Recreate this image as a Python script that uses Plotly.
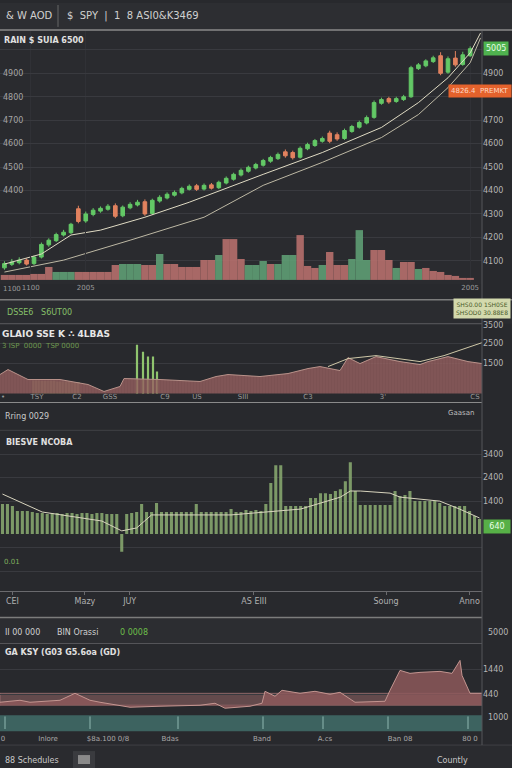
import plotly.graph_objects as go

W, H = 512, 768
XR = 482  # right edge of plotting area in px

def PX(v):
    return v / W

def PY(v):
    return 1 - v / H

# ---------------- Panel 1 : candles ----------------
candle_idx = list(range(64))
opens = [4070, 4085, 4092, 4103, 4088, 4116, 4168, 4186, 4210, 4220,
         4322, 4270, 4298, 4312, 4320, 4335, 4292, 4326, 4338, 4352,
         4302, 4355, 4368, 4380, 4390, 4405, 4420, 4406, 4424, 4412,
         4432, 4448, 4466, 4482, 4496, 4508, 4525, 4536, 4565, 4562,
         4542, 4578, 4592, 4610, 4645, 4638, 4622, 4652, 4670, 4688,
         4712, 4772, 4792, 4780, 4788, 4800, 4920, 4932, 4950, 4975,
         4905, 4965, 4938, 4975]
closes = [4088, 4095, 4103, 4086, 4116, 4170, 4188, 4212, 4222, 4256,
          4268, 4300, 4316, 4324, 4333, 4290, 4329, 4341, 4350, 4300,
          4358, 4371, 4384, 4392, 4409, 4418, 4405, 4422, 4410, 4435,
          4452, 4469, 4486, 4499, 4511, 4528, 4541, 4554, 4548, 4540,
          4580, 4596, 4613, 4622, 4610, 4620, 4656, 4673, 4690, 4711,
          4775, 4788, 4778, 4792, 4800, 4924, 4936, 4953, 4966, 4900,
          4962, 4936, 4979, 5005]
highs = [4098, 4108, 4115, 4110, 4122, 4178, 4196, 4220, 4232, 4262,
         4335, 4310, 4325, 4332, 4342, 4345, 4336, 4350, 4360, 4362,
         4365, 4380, 4392, 4400, 4416, 4426, 4428, 4430, 4432, 4442,
         4460, 4476, 4494, 4506, 4518, 4535, 4548, 4562, 4575, 4570,
         4588, 4604, 4620, 4630, 4655, 4648, 4664, 4680, 4698, 4720,
         4784, 4796, 4800, 4800, 4808, 4932, 4944, 4960, 4975, 4990,
         4972, 4995, 4992, 5015]
lows = [4062, 4078, 4085, 4080, 4082, 4110, 4160, 4180, 4204, 4214,
        4260, 4262, 4290, 4305, 4314, 4282, 4286, 4320, 4332, 4292,
        4296, 4348, 4362, 4374, 4384, 4400, 4398, 4400, 4404, 4406,
        4426, 4442, 4460, 4476, 4490, 4502, 4518, 4530, 4540, 4532,
        4536, 4572, 4586, 4604, 4602, 4612, 4616, 4646, 4664, 4682,
        4706, 4766, 4770, 4774, 4782, 4795, 4914, 4926, 4944, 4892,
        4898, 4928, 4932, 4970]

ma_fast_x = [0, 5, 9, 13, 19, 25, 35, 43, 51, 56, 60, 63, 64.4]
ma_fast = [4086, 4129, 4210, 4231, 4286, 4350, 4469, 4562, 4669, 4775, 4881, 4987, 5072]
ma_slow_x = [0, 8, 17, 27, 35, 43, 51, 56, 60, 63, 64.4]
ma_slow = [4052, 4103, 4188, 4286, 4422, 4520, 4626, 4724, 4839, 4945, 5051]

volumes = [5, 5, 5, 5, 6, 6,
           13, 8, 8, 8, 8, 8, 8, 8, 8,
           15, 16, 16, 16, 15, 15, 26, 16, 16, 13, 13, 13, 20, 20, 25, 41, 41, 21, 15, 15,
           19, 16, 16, 25, 25, 45, 14, 12, 15, 28, 15, 15, 21, 50, 20, 30, 30, 20, 12, 18,
           18, 11, 12, 9, 8, 5, 4, 2, 2]
volume_side = list("RRRRRR" + "RGGGRRRRR" + "RGGGRRGRRRRRRRGRRRGG" +
                   "GRGGGRRRGRRRGGGRRRGRRGRRRRRRR")

p1_xtick_vals = [3.55, 11, 63]
p1_xtick_text = ["1100", "2005", "2005"]
p1_ytick_vals = [4100, 4200, 4300, 4400, 4500, 4600, 4700, 4800, 4900, 5000]
p1_ytick_text = ["4100", "4200", "4300", "4400", "4500", "4600", "4700", "", "4900", ""]
p1_left_ticks = [4400, 4500, 4600, 4700, 4800, 4900]

# ---------------- Panel 2 ----------------
p2_t = [0, 2, 7, 15, 22, 26, 30, 31, 40, 50, 54, 57, 65, 72, 77, 80, 85, 87, 90, 94,
        100, 105, 107, 112, 117, 120.5]
p2_v = [950, 1200, 700, 700, 450, 100, 350, 750, 700, 600, 850, 950, 850, 1000, 1250,
        1350, 1150, 1800, 1500, 1850, 1600, 1450, 1600, 1850, 1600, 1500]
p2_line_t = [82, 87, 94, 105, 111, 120.5]
p2_line_v = [1350, 1750, 1900, 1600, 1900, 2550]
p2_spike_t = [34.25, 35.75, 37, 38.25, 39.25]
p2_spike_v = [2450, 2100, 1850, 1850, 1100]
p2_olive_t = [9, 11, 13, 15, 17, 19]
p2_olive_v = [650, 620, 640, 600, 600, 580]
p2_xtick_vals = [0.75, 9.25, 19.25, 27.5, 41.25, 49.25, 60.75, 77, 95.75, 118.75]
p2_xtick_text = ["•", "TSY", "C2", "GSS", "C9", "US", "SIII", "C3", "3'", "CS"]

# ---------------- Panel 3 ----------------
p3_vals = [1275, 1275, 1190, 980, 980, 980,
           935, 890, 890, 850, 890, 890, 850, 890, 890, 850, 890, 890, 850, 890, 890, 850, 850, 850,
           -765, 850, 890, 935,
           1275, 935, 935, 1320, 935, 935, 935, 935, 935, 935, 935, 1275, 935, 935, 935, 935, 935, 935,
           1060, 935, 935, 1020, 980, 1020, 980, 1275, 2170, 2930, 2930,
           1190, 1190, 1190, 1190, 1190, 1530, 1530, 1740, 1740, 1700, 1830, 1910, 2250, 3060, 1830,
           1230, 1230, 1230, 1230, 1230, 1230, 1230, 1830, 1615, 1660, 1830,
           1400, 1400, 1400, 1400, 1400, 1320, 1190, 1190, 1190, 1190, 1190, 980, 765, 640]
p3_t = list(range(len(p3_vals)))
p3_line_t = [0, 8, 20, 24, 27, 30, 46, 60, 68, 70, 72, 78, 80, 88, 92, 96]
p3_line_v = [1700, 935, 550, 130, 255, 810, 810, 1060, 1570, 1830, 1830, 1740, 1570, 1400, 1060, 680]
p3_xtick_vals = [2, 16.6, 25.6, 50.6, 77.2, 94]
p3_xtick_text = ["CEI", "Mazy", "JUY", "AS EIII", "Soung", "Anno"]

# ---------------- Panel 4 ----------------
p4_t = [0, 5, 7.5, 15, 18.75, 22.5, 25, 32.5, 40, 50, 53.75, 56.25, 62.5, 65.5, 66.25,
        68.75, 70.5, 75, 78.75, 82.5, 85, 88.75, 96.25, 97.5, 100, 102.5, 105, 110, 113,
        115, 115.5, 117, 117.5, 120.5]
p4_v = [120, 200, 120, 200, 480, 200, 120, -80, -40, 0, 80, -120, -40, 80, 560,
        360, 600, 480, 560, 440, 520, 120, 160, 600, 1400, 1280, 1320, 1360, 1280,
        1800, 1200, 600, 480, 480]
p4_marks_t = [1.25, 22.5, 44.5, 65.75, 80.75, 97, 117]
p4_xtick_vals = [0.75, 12, 27, 42.5, 65.5, 81.25, 100, 117.5]
p4_xtick_text = ["0", "Inlore", "$8a.100 0/8", "Bdas", "Band", "A.cs", "Ban 08", "80 0"]

# ---------------- colours ----------------
BG = "#28292d"
TXT = "#c9c9c9"
GRID = "#393a3f"
FONT = "DejaVu Sans"
UP = "#63c866"
DOWN = "#e2825f"

fig = go.Figure()

vol_colors = ["rgba(98,165,120,0.85)" if s == "G" else "rgba(190,115,112,0.85)" for s in volume_side]
fig.add_trace(go.Bar(x=candle_idx, y=volumes, width=1.0, marker=dict(color=vol_colors, line=dict(width=0)),
                     xaxis="x", yaxis="y2", hoverinfo="skip"))
fig.add_trace(go.Scatter(x=ma_slow_x, y=ma_slow, mode="lines", line=dict(color="#bdb8a4", width=1),
                         xaxis="x", yaxis="y"))
fig.add_trace(go.Scatter(x=ma_fast_x, y=ma_fast, mode="lines", line=dict(color="#e0dbc4", width=1),
                         xaxis="x", yaxis="y"))
fig.add_trace(go.Candlestick(x=candle_idx, open=opens, high=highs, low=lows, close=closes,
                             increasing=dict(line=dict(color=UP, width=1), fillcolor=UP),
                             decreasing=dict(line=dict(color=DOWN, width=1), fillcolor=DOWN),
                             whiskerwidth=0, xaxis="x", yaxis="y"))
# carrier trace so the left-hand price axis is drawn
fig.add_trace(go.Scatter(x=candle_idx[-1:], y=closes[-1:], mode="markers", marker=dict(opacity=0),
                         xaxis="x", yaxis="y7", hoverinfo="skip"))

# panel 2
fig.add_trace(go.Bar(x=p2_olive_t, y=p2_olive_v, width=1.9, marker=dict(color="rgba(120,140,85,0.55)", line=dict(width=0)),
                     xaxis="x2", yaxis="y3"))
fig.add_trace(go.Scatter(x=p2_t, y=p2_v, mode="lines", fill="tozeroy",
                         fillcolor="rgba(150,96,96,0.8)",
                         fillpattern=dict(shape="|", fgcolor="rgba(115,72,72,0.7)", bgcolor="rgba(150,96,96,0.8)",
                                          size=3, solidity=0.25),
                         line=dict(color="#b9928a", width=1), xaxis="x2", yaxis="y3"))
fig.add_trace(go.Bar(x=p2_spike_t, y=p2_spike_v, width=0.55, marker=dict(color="#8fc46e", line=dict(width=0)),
                     xaxis="x2", yaxis="y3"))
fig.add_trace(go.Scatter(x=p2_line_t, y=p2_line_v, mode="lines", line=dict(color="#cfc8a8", width=1),
                         xaxis="x2", yaxis="y3"))

# panel 3
fig.add_trace(go.Bar(x=p3_t, y=p3_vals, width=0.62, marker=dict(color="rgba(135,168,112,0.88)", line=dict(width=0)),
                     xaxis="x3", yaxis="y4"))
fig.add_trace(go.Scatter(x=p3_line_t, y=p3_line_v, mode="lines", line=dict(color="#d8d4be", width=1),
                         xaxis="x3", yaxis="y4"))

# panel 4
fig.add_trace(go.Scatter(x=p4_t, y=p4_v, mode="lines", fill="tozeroy", fillcolor="rgba(140,88,90,0.85)",
                         line=dict(color="#c39590", width=1), xaxis="x4", yaxis="y5"))
fig.add_trace(go.Scatter(x=p4_marks_t, y=[0.55] * len(p4_marks_t), mode="markers",
                         marker=dict(symbol="line-ns", size=9, line=dict(color="#8fb8b0", width=1)),
                         xaxis="x4", yaxis="y6"))

tickfont = dict(family=FONT, size=8, color="#b5b5b5")
xdom = [0, PX(XR)]

layout = dict(
    width=W, height=H, margin=dict(l=0, r=0, t=0, b=0),
    paper_bgcolor=BG, plot_bgcolor="rgba(0,0,0,0)", showlegend=False, barmode="overlay",
    font=dict(family=FONT, color=TXT),
    xaxis=dict(domain=xdom, anchor="y", range=[-0.6, 64.6], rangeslider=dict(visible=False),
               tickvals=p1_xtick_vals, ticktext=p1_xtick_text, tickfont=dict(family=FONT, size=7, color="#9a9a9a"),
               showgrid=True, gridcolor="#303136", zeroline=False, ticks=""),
    yaxis=dict(domain=[PY(280), PY(28)], anchor="x", side="right", range=[4010, 5081],
               tickvals=p1_ytick_vals, ticktext=p1_ytick_text,
               gridcolor=GRID, tickfont=tickfont, zeroline=False, ticks=""),
    yaxis7=dict(overlaying="y", anchor="x", side="left", range=[4010, 5081],
                tickvals=p1_left_ticks, ticklabelposition="inside",
                showgrid=False, zeroline=False, tickfont=dict(family=FONT, size=8, color="#a5a5a5"), ticks=""),
    yaxis2=dict(domain=[PY(280), PY(226)], anchor="x", range=[-2, 52], showticklabels=False,
                showgrid=False, zeroline=False),
    xaxis2=dict(domain=xdom, anchor="y3", range=[0, 120.5], tickvals=p2_xtick_vals, ticktext=p2_xtick_text,
                tickfont=dict(family=FONT, size=7, color="#9a9a9a"), showgrid=False, zeroline=False,
                showline=True, linecolor="#8a8a8a", linewidth=1, ticks="", ticklabelposition="inside"),
    yaxis3=dict(domain=[PY(401), PY(322)], anchor="x2", side="right", range=[-450, 3500],
                tickvals=[1500, 2500, 3450], ticktext=["1500", "2500", "3500"], gridcolor=GRID,
                tickfont=tickfont, zeroline=False, ticks=""),
    xaxis3=dict(domain=xdom, anchor="y4", range=[-0.5, 96.5], tickvals=p3_xtick_vals, ticktext=p3_xtick_text,
                tickfont=dict(family=FONT, size=8, color="#b0b0b0"), showgrid=False, zeroline=False,
                showline=True, linecolor="#6a6a6e", linewidth=1, ticks="outside", ticklen=3, tickcolor="#6a6a6e"),
    yaxis4=dict(domain=[PY(590), PY(430)], anchor="x3", side="right", range=[-2422.5, 4377.5],
                tickvals=[-1600, -600, 1400, 2400, 3400], ticktext=["", "", "1400", "2400", "3400"],
                gridcolor=GRID, tickfont=tickfont, zeroline=False, ticks=""),
    xaxis4=dict(domain=xdom, anchor="y6", range=[0, 120.5], tickvals=p4_xtick_vals, ticktext=p4_xtick_text,
                tickfont=dict(family=FONT, size=7, color="#a8a8a8"), showgrid=False, zeroline=False, ticks=""),
    yaxis5=dict(domain=[PY(712), PY(645)], anchor="x4", side="right", range=[-280, 2400],
                tickvals=[440, 1440], gridcolor=GRID, tickfont=tickfont, zeroline=False, ticks=""),
    yaxis6=dict(domain=[PY(733), PY(714)], anchor="x4", side="right", range=[0, 1],
                showticklabels=False, showgrid=False, zeroline=False),
)

shapes = []
def hline(y, x0=0, x1=W, color="#5a5a5e", width=1):
    shapes.append(dict(type="line", xref="paper", yref="paper", x0=PX(x0), x1=PX(x1), y0=PY(y), y1=PY(y),
                       line=dict(color=color, width=width), layer="above"))
def rect(x0, y0, x1, y1, color, layer="below"):
    shapes.append(dict(type="rect", xref="paper", yref="paper", x0=PX(x0), x1=PX(x1), y0=PY(y1), y1=PY(y0),
                       fillcolor=color, line=dict(width=0), layer=layer))

rect(0, 0, W, 27, "#2d2e32")
rect(0, 28, XR, 282, "#2a2b2f")
rect(0, 298, W, 322, "#2b2c30")
rect(0, 617, XR, 643, "#2c2d31")
rect(0, 746, W, H, "#2a2b2f")
rect(73, 751, 95, 768, "#3a3b3f")
rect(78, 755, 90, 764, "#8a8a8a", layer="above")
rect(0, 715, XR, 731, "#3d6360")
hline(27, color="#8a8a8a", width=1.5)
hline(298, color="#7c7c7c", width=1.5)
hline(322, 0, XR, color="#5c5c60")
hline(429, 0, XR, color="#404145")
hline(617, 0, XR, color="#7c7c7c", width=1.5)
hline(643, 0, XR, color="#55565a")
hline(745, 0, W, color="#404145")
shapes.append(dict(type="line", xref="paper", yref="paper", x0=PX(58), x1=PX(58), y0=PY(24), y1=PY(2),
                   line=dict(color="#666", width=1)))
shapes.append(dict(type="line", xref="paper", yref="paper", x0=PX(XR), x1=PX(XR), y0=PY(745), y1=PY(28),
                   line=dict(color="#55565a", width=1), layer="above"))
# band in panel 4
shapes.append(dict(type="rect", xref="x4", yref="y5", x0=0, x1=120.5, y0=0, y1=480,
                   fillcolor="rgba(170,115,115,0.45)", line=dict(color="rgba(200,140,140,0.5)", width=1),
                   layer="below"))
layout["shapes"] = shapes

anns = []
def txt(text, x, y, size=8, color=TXT, anchor="left", bg=None, bold=False, fam=FONT):
    a = dict(text=("<b>%s</b>" % text) if bold else text, x=PX(x), y=PY(y), xref="paper", yref="paper",
             xanchor=anchor, yanchor="middle", showarrow=False,
             font=dict(family=fam, size=size, color=color))
    if bg:
        a.update(bgcolor=bg, borderpad=2)
    anns.append(a)

txt("&amp; W AOD", 4, 13, 10, "#d0d0d0")
txt("$  SPY  |  1  8 ASI0&amp;K3469", 65, 13, 10, "#d0d0d0")
txt("RAIN $ SUIA 6500", 2, 38, 8, "#e0e0e0", bold=True)
txt("1100", 1, 287, 7, "#9a9a9a")
txt("DSSE6   S6UT00", 5, 311, 8, "#86c06a")
txt("SHS0.00 1SH0SE<br>SHSOD0 30.88E8", 511, 307, 6, "#4a5a2a", anchor="right", bg="#d3d9ad")
txt("GLAIO SSE K ∴ 4LBAS", 0, 332, 9, "#e6e6e6", bold=True)
txt("3 ISP  0000  TSP 0000", 0, 344, 7, "#6f9a4f")
txt("Rring 0029", 3, 415, 8, "#c9c9c9")
txt("Gaasan", 476, 412, 7, "#bdbdbd", anchor="right")
txt("BIESVE NCOBA", 4, 441, 8, "#e0e0e0", bold=True)
txt("0.01", 2, 561, 7, "#7fae5e")
txt("II 00 000", 3, 632, 8, "#d0d0d0")
txt("BIN Orassi", 55, 632, 8, "#d0d0d0")
txt("0 0008", 118, 632, 8, "#6cbf4a")
txt("5000", 486, 632, 8, "#b5b5b5")
txt("GA KSY (G03 G5.6oa (GD)", 3, 652, 8, "#e0e0e0", bold=True)
txt("1000", 486, 717, 8, "#b5b5b5")
txt("88 Schedules", 3, 760, 8, "#c9c9c9")
txt("Countly", 470, 760, 8, "#c9c9c9", anchor="right")

# price labels on the right
anns.append(dict(text="5005", x=PX(XR + 1), y=5005, xref="paper", yref="y", xanchor="left", yanchor="middle",
                 showarrow=False, bgcolor="#4fb24f", borderpad=2, font=dict(family=FONT, size=8, color="#e8ffe8")))
anns.append(dict(text="4826.4  PREMKT", x=PX(W), y=4826, xref="paper", yref="y", xanchor="right", yanchor="middle",
                 showarrow=False, bgcolor="#e4622c", borderpad=2, font=dict(family=FONT, size=7, color="#ffd9c4")))
anns.append(dict(text="640", x=PX(XR + 1), y=640, xref="paper", yref="y4", xanchor="left", yanchor="top",
                 showarrow=False, bgcolor="#57b047", borderpad=2, font=dict(family=FONT, size=8, color="#e8ffe8"),
                 width=22))
layout["annotations"] = anns

fig.update_layout(**layout)
fig.write_html("out.html", config={"displayModeBar": False},
               post_script="document.body.style.margin='0';document.body.style.overflow='hidden';")
